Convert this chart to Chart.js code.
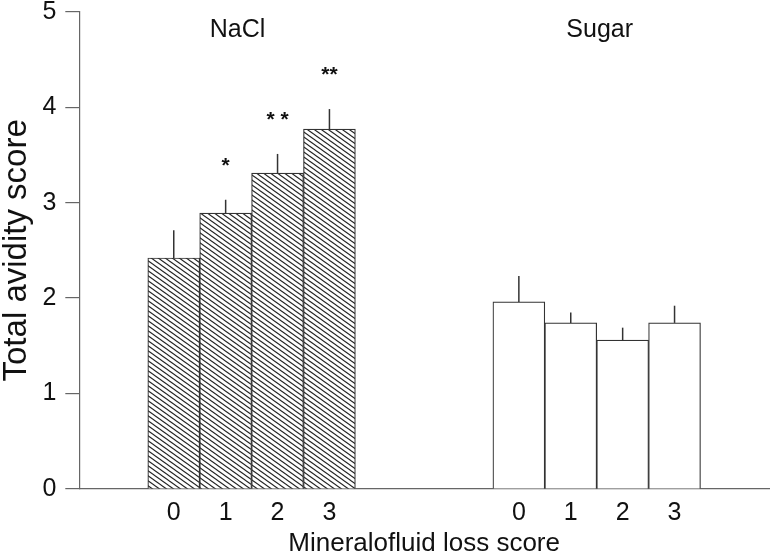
<!DOCTYPE html>
<html>
<head>
<meta charset="utf-8">
<script src="https://cdn.jsdelivr.net/npm/chart.js@4.4.0/dist/chart.umd.min.js"></script>
<style>
  html, body { margin: 0; padding: 0; background: #fff; }
  #wrap { width: 773px; height: 558px; }
</style>
</head>
<body>
<div id="wrap"><canvas id="chart" width="773" height="558"></canvas></div>
<script>
const groups = ["NaCl", "Sugar"];
const lossScores = ["0", "1", "2", "3"];
const naclValues = [2.42, 2.89, 3.31, 3.77];
const naclErrors = [0.29, 0.14, 0.20, 0.21];
const sugarValues = [1.96, 1.74, 1.56, 1.74];
const sugarErrors = [0.27, 0.11, 0.13, 0.18];
const naclMarks = ["", "*", "* *", "**"];
const sugarMarks = ["", "", "", ""];
const yTicks = [0, 1, 2, 3, 4, 5];

// second group starts this many bar widths after the first one
const groupGap = 6.65;
const naclX = lossScores.map((s, i) => i);
const sugarX = lossScores.map((s, i) => groupGap + i);
const xTickPos = naclX.concat(sugarX);
const xTickText = lossScores.concat(lossScores);

const textColor = "#111";
const lineColor = "#666";
Chart.defaults.font.family = "'Liberation Sans', Arial, sans-serif";

function makeHatch() {
  const w = 7, h = 5;
  const c = document.createElement("canvas");
  c.width = w;
  c.height = h;
  const g = c.getContext("2d");
  g.fillStyle = "#fff";
  g.fillRect(0, 0, w, h);
  g.strokeStyle = "#222";
  g.lineWidth = 1.1;
  for (const dx of [-w, 0, w]) {
    g.beginPath();
    g.moveTo(dx - w, -h);
    g.lineTo(dx + 2 * w, 2 * h);
    g.stroke();
  }
  return g.createPattern(c, "repeat");
}

const errors = [naclErrors, sugarErrors];
const marks = [naclMarks, sugarMarks];
const groupCenters = [1.5, groupGap + 1.5];
const groupShift = [-14, 3];

const annotate = {
  id: "annotate",
  afterDatasetsDraw(chart) {
    const ctx = chart.ctx;
    const y = chart.scales.y;
    const x = chart.scales.x;
    ctx.save();
    chart.data.datasets.forEach((ds, di) => {
      const meta = chart.getDatasetMeta(di);
      meta.data.forEach((bar, i) => {
        const top = y.getPixelForValue(ds.data[i].y + errors[di][i]);
        ctx.strokeStyle = "#333";
        ctx.lineWidth = 1.5;
        ctx.beginPath();
        ctx.moveTo(bar.x, bar.y);
        ctx.lineTo(bar.x, top);
        ctx.stroke();
        if (marks[di][i]) {
          ctx.fillStyle = textColor;
          ctx.font = "bold 21px 'Liberation Sans', Arial, sans-serif";
          ctx.textAlign = "center";
          ctx.textBaseline = "middle";
          ctx.fillText(marks[di][i], bar.x, top - 34);
        }
      });
    });
    ctx.fillStyle = textColor;
    ctx.font = "25px 'Liberation Sans', Arial, sans-serif";
    ctx.textAlign = "center";
    ctx.textBaseline = "middle";
    groups.forEach((name, gi) => {
      ctx.fillText(name, x.getPixelForValue(groupCenters[gi]) + groupShift[gi], chart.chartArea.top + 18);
    });
    ctx.restore();
  }
};

const ctx = document.getElementById("chart").getContext("2d");
new Chart(ctx, {
  type: "bar",
  data: {
    datasets: [
      {
        label: groups[0],
        data: naclValues.map((v, i) => ({ x: naclX[i], y: v })),
        backgroundColor: makeHatch(),
        borderColor: "#333",
        borderWidth: 1.2,
        grouped: false,
        barPercentage: 1,
        categoryPercentage: 1
      },
      {
        label: groups[1],
        data: sugarValues.map((v, i) => ({ x: sugarX[i], y: v })),
        backgroundColor: "#fff",
        borderColor: "#333",
        borderWidth: 1.2,
        grouped: false,
        barPercentage: 1,
        categoryPercentage: 1
      }
    ]
  },
  options: {
    responsive: false,
    animation: false,
    layout: { padding: { top: 11.7, right: 4, left: 0, bottom: 0 } },
    plugins: { legend: { display: false }, tooltip: { enabled: false } },
    scales: {
      x: {
        type: "linear",
        offset: false,
        min: -1.82,
        max: 11.47,
        afterBuildTicks: s => { s.ticks = xTickPos.map(v => ({ value: v })); },
        ticks: {
          callback: (v, i) => xTickText[i],
          font: { size: 25 },
          color: textColor,
          padding: 9,
          autoSkip: false,
          maxRotation: 0
        },
        grid: { display: false, drawTicks: false },
        border: { display: true, color: lineColor, width: 1.2 },
        title: {
          display: true,
          text: "Mineralofluid loss score",
          color: textColor,
          font: { size: 26, lineHeight: 1 },
          padding: { top: 0, bottom: 1 }
        },
        afterFit: s => { s.height = 69; s.paddingLeft = 0; s.paddingRight = 0; }
      },
      y: {
        min: 0,
        max: 5,
        afterBuildTicks: s => { s.ticks = yTicks.map(v => ({ value: v })); },
        ticks: { font: { size: 25 }, color: textColor, padding: 9 },
        grid: { drawOnChartArea: false, drawTicks: true, tickLength: 14, color: lineColor, lineWidth: 1.2 },
        border: { color: lineColor, width: 1.2 },
        title: {
          display: true,
          text: "Total avidity score",
          color: textColor,
          font: { size: 33, lineHeight: 1 },
          padding: { top: 0, bottom: 0 }
        },
        afterFit: s => { s.width = 79.3; s.paddingTop = 0; s.paddingBottom = 0; }
      }
    }
  },
  plugins: [annotate]
});
</script>
</body>
</html>
